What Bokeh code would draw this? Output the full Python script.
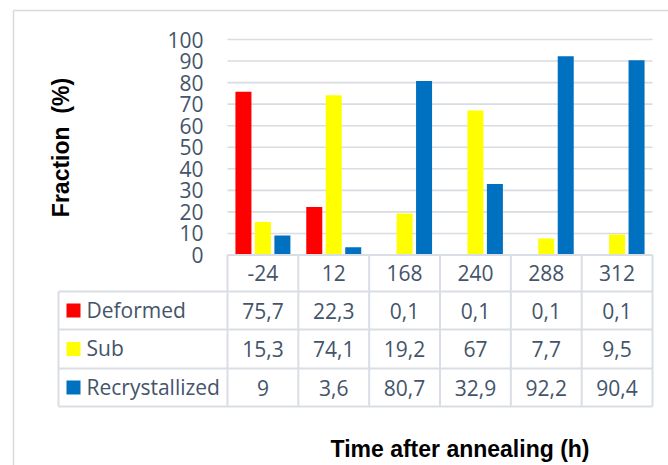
import numpy as np
from bokeh.plotting import figure
from bokeh.models import Range1d
from bokeh.core.properties import value
from bokeh.embed import file_html
from bokeh.resources import INLINE

# ---- data ----
categories = ["-24", "12", "168", "240", "288", "312"]
series_names = ["Deformed", "Sub", "Recrystallized"]
deformed = [75.7, 22.3, 0.1, 0.1, 0.1, 0.1]
sub = [15.3, 74.1, 19.2, 67, 7.7, 9.5]
recrystallized = [9, 3.6, 80.7, 32.9, 92.2, 90.4]
y_ticks = [0, 10, 20, 30, 40, 50, 60, 70, 80, 90, 100]
y_title = "Fraction \u00a0(%)"
x_title = "Time after annealing (h)"

# ---- styles / layout ----
colors = ["#FF0000", "#FFFF00", "#0070C0"]
TEXT_COLOR = "#44546A"
GRID_COLOR = "#D9DCE1"
BORDER_COLOR = "#D9DEE5"
W, H = 668, 465
PL, PR, PT, PB = 227, 652, 39, 254.5     # plot area in pixels
TAB_L = 58
ROW_EDGES = [254.5, 291, 329, 368, 406]  # header row + 3 series rows
n = len(categories)
cw = (PR - PL) / n                        # px per category
ppu = (PB - PT) / 100.0                   # px per y unit
BAR_W = 0.226
OFFS = [-0.275, 0.0, 0.275]
FONT = value("Open Sans")
FSIZE = "21px"

p = figure(width=W, height=H, output_backend="svg", toolbar_location=None,
           x_range=Range1d(-PL / cw, n + (W - PR) / cw),
           y_range=Range1d(-(H - PB) / ppu, 100 + PT / ppu),
           x_axis_type=None, y_axis_type=None, min_border=0)
p.outline_line_color = None
p.background_fill_color = "white"
p.border_fill_color = "white"
p.extra_x_ranges = {"px": Range1d(0, W)}
p.extra_y_ranges = {"px": Range1d(H, 0)}

# outer chart border
p.segment(x0=[13, 13], y0=[10, 10], x1=[W, 13], y1=[10, H],
          x_range_name="px", y_range_name="px", line_color="#D9D9D9", line_width=1.5)

# gridlines
grid_ticks = [t for t in y_ticks if t > 0]
p.segment(x0=[0] * len(grid_ticks), x1=[n] * len(grid_ticks), y0=grid_ticks, y1=grid_ticks,
          line_color=GRID_COLOR, line_width=1.6)

# y tick labels
p.text(x=[PL - 24] * len(y_ticks), y=y_ticks, text=[str(t) for t in y_ticks],
       x_range_name="px", text_align="right", text_baseline="middle",
       text_font=FONT, text_font_size=FSIZE, text_color=TEXT_COLOR)

# bars
xs = np.arange(n) + 0.5
for vals, off, col in zip([deformed, sub, recrystallized], OFFS, colors):
    p.vbar(x=xs + off, top=vals, bottom=0, width=BAR_W, fill_color=col, line_color=None)

# table borders
hx0 = [PL] + [TAB_L] * (len(ROW_EDGES) - 1)
p.segment(x0=hx0, x1=[PR] * len(ROW_EDGES), y0=ROW_EDGES, y1=ROW_EDGES,
          x_range_name="px", y_range_name="px", line_color=BORDER_COLOR, line_width=2)
vcols = list(range(n + 1))
p.segment(x0=vcols, x1=vcols, y0=[ROW_EDGES[0]] * len(vcols), y1=[ROW_EDGES[-1]] * len(vcols),
          y_range_name="px", line_color=BORDER_COLOR, line_width=2)
p.segment(x0=[TAB_L], x1=[TAB_L], y0=[ROW_EDGES[1]], y1=[ROW_EDGES[-1]],
          x_range_name="px", y_range_name="px", line_color=BORDER_COLOR, line_width=2)

# header row (categories)
hdr_y = (ROW_EDGES[0] + ROW_EDGES[1]) / 2
p.text(x=xs, y=[hdr_y] * n, text=categories, y_range_name="px",
       text_align="center", text_baseline="middle",
       text_font=FONT, text_font_size=FSIZE, text_color=TEXT_COLOR)

def fmt(v):
    return f"{v:g}".replace(".", ",")

for r, (name, vals, col) in enumerate(zip(series_names, [deformed, sub, recrystallized], colors)):
    cy = (ROW_EDGES[r + 1] + ROW_EDGES[r + 2]) / 2
    p.text(x=xs, y=[cy] * n, text=[fmt(v) for v in vals], y_range_name="px",
           text_align="center", text_baseline="middle",
           text_font=FONT, text_font_size=FSIZE, text_color=TEXT_COLOR)
    p.rect(x=[TAB_L + 15], y=[cy], width=14, height=14, x_range_name="px", y_range_name="px",
           fill_color=col, line_color=None)
    p.text(x=[TAB_L + 28], y=[cy - 1], text=[name], x_range_name="px", y_range_name="px",
           text_align="left", text_baseline="middle",
           text_font=FONT, text_font_size=FSIZE, text_color=TEXT_COLOR)

# axis titles
p.text(x=[60], y=[147], text=[y_title], angle=np.pi / 2, x_range_name="px", y_range_name="px",
       text_align="center", text_baseline="middle", text_font=value("Liberation Sans"),
       text_font_style="bold", text_font_size="23px", text_color="black")
p.text(x=[459.5], y=[448], text=[x_title], x_range_name="px", y_range_name="px",
       text_align="center", text_baseline="middle", text_font=value("Liberation Sans"),
       text_font_style="bold", text_font_size="23px", text_color="black")

open("out.html", "w").write(file_html(p, INLINE))
